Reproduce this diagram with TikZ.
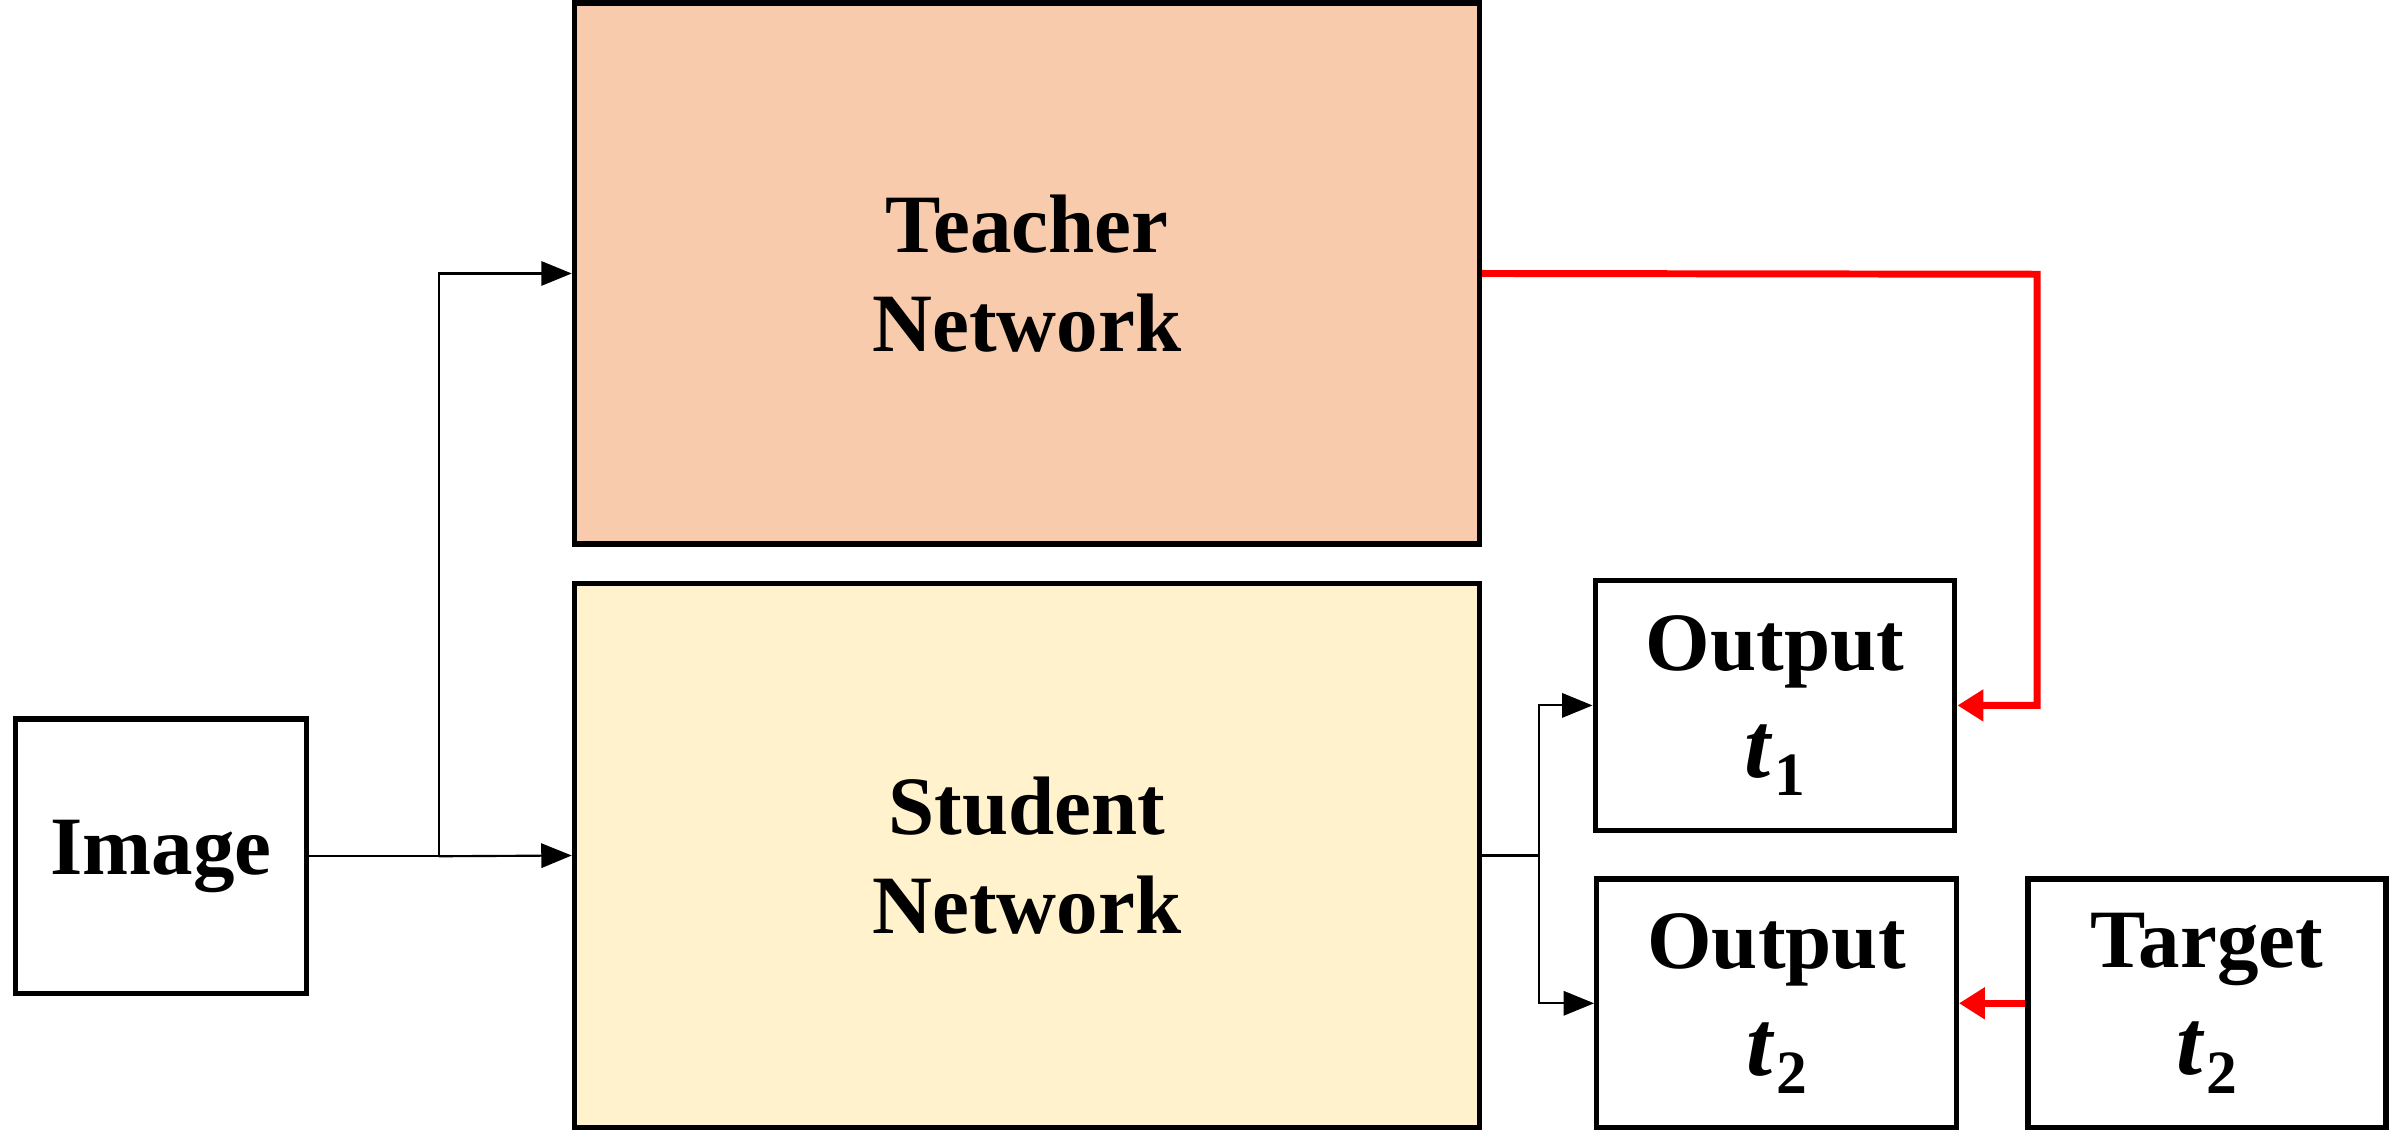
\documentclass[tikz,border=0pt]{standalone}
\usepackage{fontspec}
\setmainfont{Liberation Serif}
\usetikzlibrary{arrows.meta}
\definecolor{teachc}{HTML}{F8CBAD}
\definecolor{studc}{HTML}{FFF2CC}
\newlength\pxu
\setlength\pxu{0.02cm}
\newcommand\tsub[1]{{\fontsize{35}{37}\selectfont\bfseries\itshape t}\kern0.05em\raisebox{-0.22em}{\fontsize{23}{23}\selectfont\bfseries #1}}
\begin{document}
\begin{tikzpicture}[x=0.02cm,y=-0.02cm,
  box/.style={draw=black, line width=2pt, align=center, inner sep=0pt,
    font=\fontsize{31}{37}\selectfont\bfseries},
  conn/.style={line width=0.8pt, -{Triangle[length=0.4cm,width=0.32cm]}},
  redconn/.style={draw=red, line width=2.6pt, -{Triangle[length=0.34cm,width=0.4cm]}}]
\useasboundingbox (0,0) rectangle (1568,742);
\node[box, minimum width=191\pxu, minimum height=180\pxu] (img) at (105.5,562) {Image};
\node[box, fill=teachc, minimum width=594\pxu, minimum height=355\pxu] (teacher) at (674,179.5) {Teacher\\Network};
\node[box, fill=studc, minimum width=594\pxu, minimum height=357\pxu] (student) at (674,561.5) {Student\\Network};
\node[box, minimum width=236\pxu, minimum height=164\pxu] (out1) at (1165,463) {Output\\[3pt]\tsub{1}};
\node[box, minimum width=236\pxu, minimum height=163\pxu] (out2) at (1166,658.5) {Output\\[3pt]\tsub{2}};
\node[box, minimum width=235\pxu, minimum height=163\pxu] (target) at (1448.5,658.5) {Target\\[3pt]\tsub{2}};
\coordinate (split1) at (288,562);
\coordinate (split2) at (1010,561.5);
\coordinate (rc) at (1337,180);
\draw[line width=0.8pt] (img.east) -- (split1);
\draw[conn] (split1) |- (teacher.west);
\draw[conn] (split1) -- (student.west);
\draw[line width=0.8pt] (student.east) -- (split2);
\draw[conn] (split2) |- (out1.west);
\draw[conn] (split2) |- (out2.west);
\draw[redconn] (teacher.east) -- (rc) |- (out1.east);
\draw[redconn] (target.west) -- (out2.west -| out2.east);
\end{tikzpicture}
\end{document}
